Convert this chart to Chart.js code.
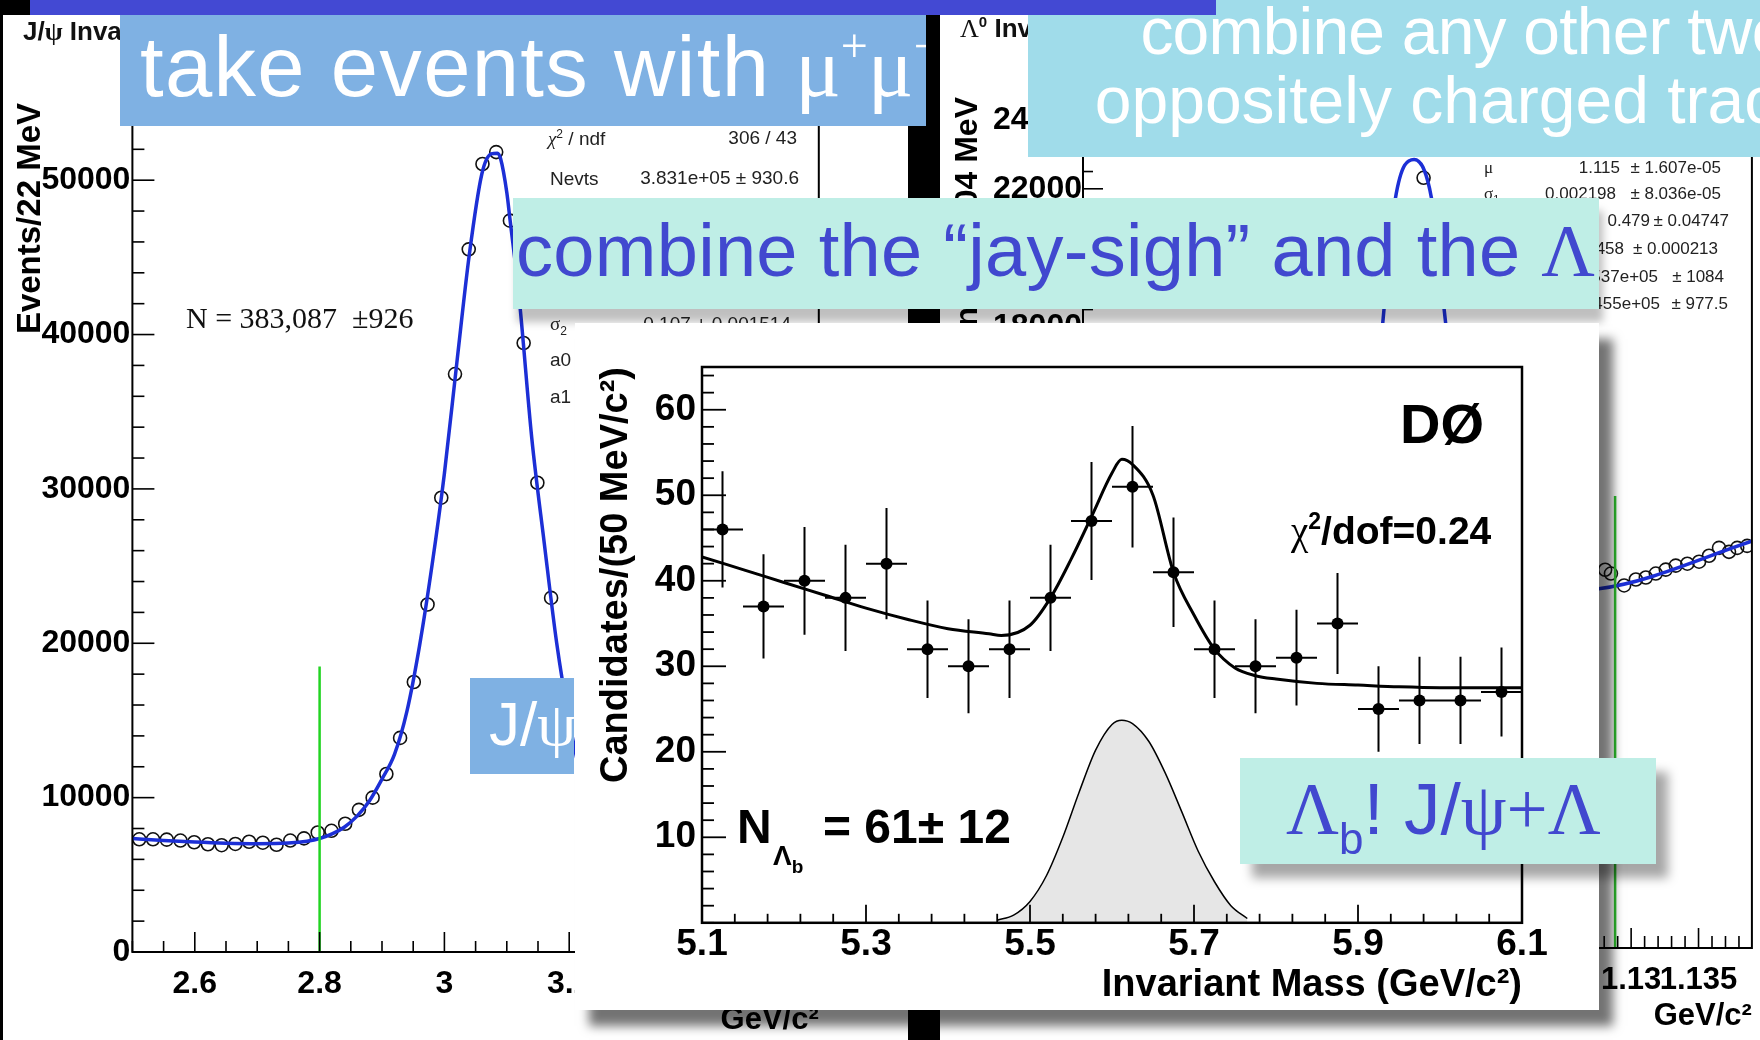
<!DOCTYPE html>
<html><head><meta charset="utf-8">
<script src="https://cdn.jsdelivr.net/npm/chart.js@4.4.1/dist/chart.umd.min.js"></script>
<style>
html,body{margin:0;padding:0;background:#000;width:1760px;height:1040px;overflow:hidden;position:relative;font-family:'Liberation Sans',Arial,sans-serif;}
.abs{position:absolute;}
.t{position:absolute;white-space:nowrap;line-height:1;}
.serif{font-family:'Liberation Serif','Times New Roman',serif;}
.box{position:absolute;overflow:hidden;}
canvas{position:absolute;}
</style></head>
<body>
<!-- left panel : J/psi -->
<div class="abs" style="left:3px;top:15px;width:905px;height:1025px;background:#fff"></div>
<canvas id="cL" width="905" height="1025" style="left:3px;top:15px;width:905px;height:1025px"></canvas>
<div class="t" style="left:23px;top:18px;font-size:26px;font-weight:bold;color:#111">J/<span class="serif">ψ</span> Invariant Mass</div>
<div class="t serif" style="left:186px;top:303px;font-size:30px;color:#111">N = 383,087 &nbsp;±926</div>
<div class="t" style="left:548px;top:129px;font-size:19px;color:#222"><span class="serif" style="font-style:italic">χ</span><span style="position:relative;top:-7px;font-size:12px">2</span> / ndf</div>
<div class="t" style="right:963px;top:128px;font-size:19px;color:#222">306 / 43</div>
<div class="t" style="left:550px;top:169px;font-size:19px;color:#222">Nevts</div>
<div class="t" style="right:961px;top:168px;font-size:19px;color:#222">3.831e+05 ± 930.6</div>
<div class="t" style="left:550px;top:314px;font-size:19px;color:#222"><span class="serif">σ</span><span style="position:relative;top:5px;font-size:12px">2</span></div>
<div class="t" style="right:969px;top:314px;font-size:19px;color:#222">0.107 ± 0.001514</div>
<div class="t" style="left:550px;top:350px;font-size:19px;color:#222">a0</div>
<div class="t" style="left:550px;top:387px;font-size:19px;color:#222">a1</div>

<!-- right panel : Lambda0 -->
<div class="abs" style="left:940px;top:15px;width:820px;height:1025px;background:#fff"></div>
<canvas id="cR" width="820" height="1025" style="left:940px;top:15px;width:820px;height:1025px"></canvas>
<div class="t" style="left:960px;top:15px;font-size:26px;font-weight:bold;color:#111"><span class="serif" style="font-weight:normal">Λ</span><span style="position:relative;top:-10px;font-size:15px">0</span> Invariant Mass</div>
<div class="t serif" style="left:1484px;top:159px;font-size:17px;color:#222">μ</div>
<div class="t" style="right:140px;top:159px;font-size:17px;color:#222">1.115</div>
<div class="t" style="right:39px;top:159px;font-size:17px;color:#222">± 1.607e-05</div>
<div class="t" style="left:1484px;top:185px;font-size:17px;color:#222"><span class="serif">σ</span><span style="position:relative;top:4px;font-size:11px">1</span></div>
<div class="t" style="right:144px;top:185px;font-size:17px;color:#222">0.002198</div>
<div class="t" style="right:39px;top:185px;font-size:17px;color:#222">± 8.036e-05</div>
<div class="t" style="right:110px;top:212px;font-size:17px;color:#222">0.479</div>
<div class="t" style="right:31px;top:212px;font-size:17px;color:#222">± 0.04747</div>
<div class="t" style="right:136px;top:240px;font-size:17px;color:#222">0.002458</div>
<div class="t" style="right:42px;top:240px;font-size:17px;color:#222">± 0.000213</div>
<div class="t" style="right:102px;top:268px;font-size:17px;color:#222">1.537e+05</div>
<div class="t" style="right:36px;top:268px;font-size:17px;color:#222">± 1084</div>
<div class="t" style="right:100px;top:295px;font-size:17px;color:#222">1.455e+05</div>
<div class="t" style="right:32px;top:295px;font-size:17px;color:#222">± 977.5</div>

<!-- overlay boxes -->
<div class="box" style="left:1028px;top:0;width:732px;height:157px;background:#A0DCEA">
  <div class="t" style="left:0;width:872px;text-align:center;top:-2px;font-size:66px;color:#fff;letter-spacing:-0.8px">combine any other two</div>
  <div class="t" style="left:0;width:882px;text-align:center;top:67px;font-size:66px;color:#fff">oppositely charged tracks</div>
</div>
<div class="abs" style="left:30px;top:0;width:1186px;height:15px;background:#4349D3"></div>
<div class="box" style="left:120px;top:15px;width:806px;height:111px;background:#7FB1E3">
  <div class="t" style="left:20px;top:9px;font-size:85px;color:#fff;letter-spacing:1.3px">take events with <span class="serif" style="letter-spacing:0">μ<span style="position:relative;top:-34px;font-size:48px">+</span>μ<span style="position:relative;top:-34px;font-size:48px">−</span></span></div>
</div>
<div class="box" style="left:513px;top:198px;width:1086px;height:111px;background:#BFEEE6;overflow:visible;box-shadow:4px 13px 8px rgba(0,0,0,0.25)">
  <div style="position:absolute;left:0;top:0;width:1086px;height:111px;overflow:hidden">
    <div class="t" style="left:3px;top:16px;font-size:74px;color:#4148CF;letter-spacing:0.3px">combine the “jay-sigh” and the <span class="serif">Λ</span></div>
  </div>
</div>
<div class="box" style="left:470px;top:678px;width:104px;height:96px;background:#7FB1E3">
  <div class="t" style="left:19px;top:15px;font-size:62px;color:#fff">J/<span class="serif">ψ</span></div>
</div>

<!-- D0 panel -->
<div class="abs" style="left:575px;top:323px;width:1024px;height:687px;background:#fff;box-shadow:14px 16px 10px rgba(0,0,0,0.55)">
  <canvas id="cD" width="1024" height="687" style="left:0;top:0;width:1024px;height:687px"></canvas>
  <div class="t" style="left:825px;top:73px;font-size:56px;font-weight:bold;color:#000">DØ</div>
  <div class="t" style="left:716px;top:188px;font-size:39px;font-weight:bold;color:#000"><span class="serif" style="font-weight:normal">χ</span><span style="position:relative;top:-15px;font-size:23px">2</span>/dof=0.24</div>
  <div class="t" style="left:162px;top:480px;font-size:48px;font-weight:bold;color:#000">N</div>
  <div class="t" style="left:198px;top:519px;font-size:28px;font-weight:bold;color:#000">Λ<span style="position:relative;top:8px;font-size:19px">b</span></div>
  <div class="t" style="left:248px;top:480px;font-size:48px;font-weight:bold;color:#000">= 61± 12</div>
</div>

<div class="box" style="left:1240px;top:758px;width:416px;height:106px;background:#BFEEE6;overflow:visible;box-shadow:12px 14px 10px rgba(0,0,0,0.35)">
  <div class="t" style="left:46px;top:14px;font-size:73px;color:#4148CF"><span class="serif">Λ</span><span style="position:relative;top:20px;font-size:44px">b</span>! J/<span class="serif">ψ+Λ</span></div>
</div>

<script>
// ---------------- J/psi (left) ----------------
const jpsiMass   = [2.511,2.533,2.555,2.577,2.599,2.621,2.643,2.665,2.687,2.709,2.731,2.753,2.775,2.797,2.819,2.841,2.863,2.885,2.907,2.929,2.951,2.973,2.995,3.017,3.039,3.061,3.083,3.105,3.127,3.149,3.171,3.193];
const jpsiCounts = [7300,7300,7280,7220,7110,6980,6920,7000,7140,7080,6950,7220,7360,7740,7850,8310,9210,10000,11530,13870,17490,22510,29430,37440,45520,51050,51820,47380,39450,30400,22940,16800];
const jpsiFitX   = [2.50,2.55,2.60,2.65,2.70,2.75,2.78,2.80,2.82,2.84,2.86,2.88,2.90,2.92,2.94,2.96,2.98,3.00,3.02,3.04,3.06,3.075,3.085,3.09,3.10,3.105,3.12,3.14,3.16,3.18,3.20,3.22];
const jpsiFitY   = [7350,7220,7120,7050,7020,7060,7180,7350,7650,8100,8800,9800,11200,12800,15600,19800,25000,31000,38200,45200,50400,51700,51750,51400,49200,47500,42300,33300,26500,20000,15000,11000];
const jpsiCut = 2.8, jpsiCutTop = 18500;
const jpsiXTicks = [2.6,2.8,3.0,3.2,3.4];
const jpsiXTickLabels = ['2.6','2.8','3','3.2','3.4'];
const jpsiYTicks = [0,10000,20000,30000,40000,50000];
const jpsiYTickLabels = ['0','10000','20000','30000','40000','50000'];

// ---------------- Lambda0 (right) ----------------
const lamMass   = [1.1146,1.12807,1.12850,1.12948,1.13035,1.13109,1.13183,1.13257,1.13331,1.13417,1.13504,1.13578,1.13652,1.13726,1.13787,1.13861];
const lamCounts = [22318,10960,10850,10506,10679,10737,10850,10965,11081,11136,11194,11367,11595,11480,11595,11653];
const lamFitX   = [1.100,1.106,1.109,1.1105,1.1116,1.1125,1.1139,1.1152,1.1162,1.1175,1.119,1.121,1.1276,1.1395];
const lamFitY   = [9800,10000,10600,13500,18240,21700,22850,21700,18240,13500,10800,10300,10410,11855];
const lamCut = 1.12881, lamCutTop = 13100;
const lamXTicks = [1.13,1.135];
const lamXTickLabels = ['1.13','1.135'];
const lamYTicks = [0,2000,4000,6000,8000,10000,12000,14000,16000,18000,20000,22000,24000];
const lamYTickLabels = ['0','2000','4000','6000','8000','10000','12000','14000','16000','18000','20000','22000','24000'];

// ---------------- Lambda_b (D0) ----------------
const doMass   = [5.125,5.175,5.225,5.275,5.325,5.375,5.425,5.475,5.525,5.575,5.625,5.675,5.725,5.775,5.825,5.875,5.925,5.975,6.025,6.075];
const doCounts = [46,37,40,38,42,32,30,32,38,47,51,41,32,30,31,35,25,26,26,27];
const doErr    = [6.8,6.1,6.3,6.2,6.5,5.7,5.5,5.7,6.2,6.9,7.1,6.4,5.7,5.5,5.6,5.9,5.0,5.1,5.1,5.2];
const doBinWidth = 0.05;
const doFitX = [5.10,5.15,5.20,5.25,5.30,5.35,5.40,5.45,5.465,5.50,5.525,5.55,5.575,5.60,5.612,5.625,5.65,5.675,5.70,5.725,5.75,5.775,5.80,5.85,5.90,5.95,6.00,6.05,6.10];
const doFitY = [42.8,41.3,39.8,38.3,36.8,35.5,34.4,33.8,33.6,34.8,38.0,42.5,47.5,52.6,54.2,53.6,50.0,41.0,36.0,32.0,29.8,28.9,28.5,28.0,27.8,27.6,27.5,27.5,27.5];
const doSigX = [5.46,5.48,5.50,5.52,5.54,5.56,5.58,5.60,5.612,5.625,5.645,5.665,5.685,5.705,5.725,5.745,5.765];
const doSigY = [0.3,0.9,2.5,5.5,10.0,15.3,20.2,23.2,23.7,23.3,21.2,17.5,13.0,8.4,4.8,2.0,0.5];
const doXTicks = [5.1,5.3,5.5,5.7,5.9,6.1];
const doXTickLabels = ['5.1','5.3','5.5','5.7','5.9','6.1'];
const doYTicks = [10,20,30,40,50,60];
const doYTickLabels = ['10','20','30','40','50','60'];

const FONT = "'Liberation Sans', Arial, sans-serif";
Chart.defaults.font.family = FONT;
const pts = (xs, ys) => xs.map((x, i) => ({x, y: ys[i]}));

// ROOT style inward ticks + frame
const rootAxes = {
  id: 'rootAxes',
  afterDatasetsDraw(chart, args, opts) {
    const {ctx, chartArea: a, scales} = chart;
    ctx.save();
    ctx.strokeStyle = '#000';
    const drawAxis = (scale, o, horiz) => {
      ctx.lineWidth = opts.tickWidth;
      const majors = scale.ticks.map(t => t.value);
      const k0 = Math.ceil((scale.min - o.origin) / o.minor - 1e-6);
      for (let k = k0; ; k++) {
        const v = o.origin + k * o.minor;
        if (v > scale.max + 1e-9) break;
        const isMajor = majors.some(m => Math.abs(m - v) < o.minor * 1e-3);
        const len = isMajor ? o.majorLen : o.minorLen;
        const p = scale.getPixelForValue(v);
        ctx.beginPath();
        if (horiz) { ctx.moveTo(p, a.bottom); ctx.lineTo(p, a.bottom - len); }
        else { ctx.moveTo(a.left, p); ctx.lineTo(a.left + len, p); }
        ctx.stroke();
      }
    };
    drawAxis(scales.x, opts.x, true);
    drawAxis(scales.y, opts.y, false);
    ctx.lineWidth = opts.frameWidth;
    ctx.strokeRect(a.left, a.top, a.right - a.left, a.bottom - a.top);
    ctx.restore();
  }
};

const errorBars = {
  id: 'errorBars',
  beforeDatasetsDraw(chart) {
    if (!chart.options.plugins.errorBars || !chart.options.plugins.errorBars.on) return;
    const {ctx, scales: {x, y}} = chart;
    ctx.save(); ctx.strokeStyle = '#000'; ctx.lineWidth = 2;
    doMass.forEach((m, i) => {
      const px = x.getPixelForValue(m), py = y.getPixelForValue(doCounts[i]);
      const t = y.getPixelForValue(doCounts[i] + doErr[i]), b = y.getPixelForValue(doCounts[i] - doErr[i]);
      const l = x.getPixelForValue(m - doBinWidth / 2), r = x.getPixelForValue(m + doBinWidth / 2);
      ctx.beginPath(); ctx.moveTo(px, t); ctx.lineTo(px, b); ctx.moveTo(l, py); ctx.lineTo(r, py); ctx.stroke();
    });
    ctx.restore();
  }
};

function axis(o) {
  return {
    type: 'linear', min: o.min, max: o.max,
    afterBuildTicks: s => { s.ticks = o.ticks.map(v => ({value: v})); },
    afterFit: s => { if (o.width !== undefined) s.width = o.width; if (o.height !== undefined) s.height = o.height; },
    grid: {display: false, drawTicks: false}, border: {display: false},
    ticks: {padding: o.pad, autoSkip: false, maxRotation: 0, minRotation: 0, color: '#000',
      font: {family: FONT, size: o.fs, weight: 'bold'}, callback: (v, i) => o.labels[i]},
    title: {display: true, text: o.title, align: 'end', color: '#000',
      font: {family: FONT, size: o.tfs, weight: 'bold'}, padding: o.tpad}
  };
}
const baseOpts = (padding) => ({
  responsive: false, animation: false, devicePixelRatio: 1, events: [],
  layout: {padding},
  plugins: {legend: {display: false}, tooltip: {enabled: false}}
});

// Left chart
const oL = baseOpts({left: 0, top: 88, right: 89.2, bottom: 0});
oL.scales = {
  x: axis({min: 2.5, max: 3.6, ticks: jpsiXTicks, labels: jpsiXTickLabels, height: 88, pad: 13, fs: 32, title: 'GeV/c²', tfs: 31, tpad: {top: 0, bottom: 1}}),
  y: axis({min: 0, max: 55000, ticks: jpsiYTicks, labels: jpsiYTickLabels, width: 129.4, pad: 2, fs: 32, title: 'Events/22 MeV', tfs: 33, tpad: {top: 8, bottom: 0}})
};
oL.plugins.rootAxes = {tickWidth: 1.6, frameWidth: 2, x: {origin: 2.5, minor: 0.05, majorLen: 20, minorLen: 11}, y: {origin: 0, minor: 2000, majorLen: 22, minorLen: 12}};
new Chart(document.getElementById('cL'), {
  type: 'line',
  data: {datasets: [
    {data: [{x: jpsiCut, y: 0}, {x: jpsiCut, y: jpsiCutTop}], borderColor: '#22d422', borderWidth: 2.5, pointRadius: 0, order: 0},
    {data: pts(jpsiFitX, jpsiFitY), borderColor: '#1c2fd6', borderWidth: 3.5, pointRadius: 0, cubicInterpolationMode: 'monotone', order: 1},
    {data: pts(jpsiMass, jpsiCounts), showLine: false, pointRadius: 6.5, pointBorderWidth: 1.6, pointBorderColor: '#111', pointBackgroundColor: 'rgba(0,0,0,0)', order: 2}
  ]},
  options: oL, plugins: [rootAxes]
});

// Right chart
const oR = baseOpts({left: 0, top: 82, right: 7, bottom: 0});
oR.scales = {
  x: axis({min: 1.08933, max: 1.13896, ticks: lamXTicks, labels: lamXTickLabels, height: 92, pad: 14, fs: 31, title: 'GeV/c²', tfs: 31, tpad: {top: 0, bottom: 5}}),
  y: axis({min: 0, max: 24660, ticks: lamYTicks, labels: lamYTickLabels, width: 143, pad: 1, fs: 32, title: 'Events/0.0004 MeV', tfs: 32, tpad: {top: 9, bottom: 0}})
};
oR.plugins.rootAxes = {tickWidth: 1.6, frameWidth: 2, x: {origin: 1.13, minor: 0.001, majorLen: 20, minorLen: 12}, y: {origin: 0, minor: 500, majorLen: 20, minorLen: 10}};
new Chart(document.getElementById('cR'), {
  type: 'line',
  data: {datasets: [
    {data: [{x: lamCut, y: 0}, {x: lamCut, y: lamCutTop}], borderColor: '#2fc02f', borderWidth: 2.5, pointRadius: 0, order: 0},
    {data: pts(lamFitX, lamFitY), borderColor: '#1c2fd6', borderWidth: 3.5, pointRadius: 0, cubicInterpolationMode: 'monotone', order: 1},
    {data: pts(lamMass, lamCounts), showLine: false, pointRadius: 6.5, pointBorderWidth: 1.6, pointBorderColor: '#111', pointBackgroundColor: 'rgba(0,0,0,0)', order: 2}
  ]},
  options: oR, plugins: [rootAxes]
});

// D0 chart
const oD = baseOpts({left: 0, top: 44, right: 77, bottom: 0});
oD.scales = {
  x: axis({min: 5.1, max: 6.1, ticks: doXTicks, labels: doXTickLabels, height: 87.2, pad: 0, fs: 37, title: 'Invariant Mass (GeV/c²)', tfs: 38, tpad: {top: 0, bottom: 2}}),
  y: axis({min: 0, max: 65, ticks: doYTicks, labels: doYTickLabels, width: 127, pad: 6, fs: 37, title: 'Candidates/(50 MeV/c²)', tfs: 38, tpad: {top: 19, bottom: 0}})
};
oD.plugins.rootAxes = {tickWidth: 1.8, frameWidth: 2.5, x: {origin: 5.1, minor: 0.04, majorLen: 18, minorLen: 9}, y: {origin: 0, minor: 2, majorLen: 24, minorLen: 12}};
oD.plugins.errorBars = {on: true};
new Chart(document.getElementById('cD'), {
  type: 'line',
  data: {datasets: [
    {data: pts(doMass, doCounts), showLine: false, pointRadius: 6, pointBorderWidth: 0, pointBackgroundColor: '#000', order: 0},
    {data: pts(doFitX, doFitY), borderColor: '#000', borderWidth: 3, pointRadius: 0, cubicInterpolationMode: 'monotone', order: 1},
    {data: pts(doSigX, doSigY), borderColor: '#000', borderWidth: 1.5, backgroundColor: '#e6e6e6', fill: 'origin', pointRadius: 0, cubicInterpolationMode: 'monotone', order: 2}
  ]},
  options: oD, plugins: [errorBars, rootAxes]
});
</script>
</body></html>
